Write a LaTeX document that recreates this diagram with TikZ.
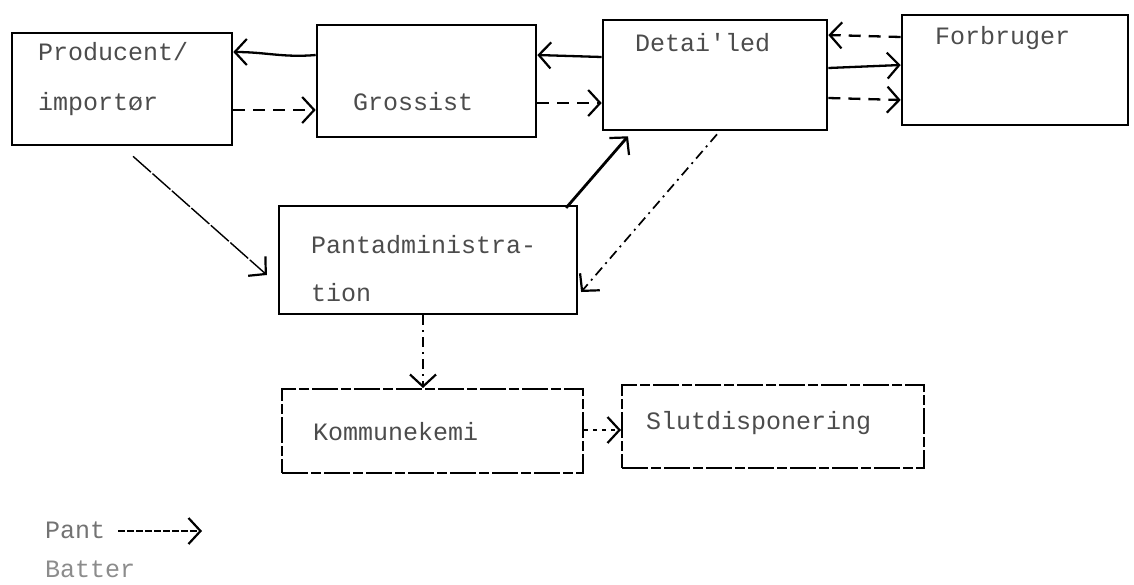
\documentclass[tikz,border=0pt]{standalone}
\usepackage{fontspec}
\setmonofont{Liberation Mono}
\usetikzlibrary{arrows.meta}
\tikzset{
  box/.style={draw=black, line width=2.6pt, rectangle, inner sep=0pt},
  lowbox/.style={draw=black, line width=2pt, rectangle, inner sep=0pt, dash pattern=on 26pt off 3pt on 10pt off 3pt},
  lbl/.style={font=\ttfamily\fontsize{25}{28}\selectfont, text=black!70, anchor=west, inner sep=0pt},
  tip/.style={-{Straight Barb[length=12pt,width=26pt,line width=2.2pt]}},
  solidarr/.style={tip, line width=2.3pt},
  dasharr/.style={tip, line width=2.3pt, dash pattern=on 12pt off 8pt},
  dasharrow/.style={tip, line width=1.7pt, dash pattern=on 10pt off 5pt on 2pt off 5pt},
  dotarr/.style={tip, line width=2.4pt, dash pattern=on 4pt off 5pt},
  thinarr/.style={tip, line width=1.4pt, dash pattern=on 24pt off 2pt},
}
\begin{document}
\begin{tikzpicture}[x=1pt,y=-1pt]
\useasboundingbox (0,0) rectangle (1134,584);
% boxes
\node[box, minimum width=220pt, minimum height=112pt] (prod) at (122,89) {};
\node[box, minimum width=219pt, minimum height=112pt] (gros) at (426.5,81) {};
\node[box, minimum width=224pt, minimum height=110pt] (det) at (715,75) {};
\node[box, minimum width=226pt, minimum height=110pt] (forb) at (1015,70) {};
\node[box, line width=2.2pt, minimum width=298pt, minimum height=108pt] (pant) at (428,260) {};
\node[lowbox, minimum width=301pt, minimum height=84pt] (komm) at (432.5,431) {};
\node[lowbox, minimum width=302pt, minimum height=83pt] (slut) at (773,426.5) {};
% labels
\node[lbl] (tprod1) at (38,52) {Producent/};
\node[lbl] (tprod2) at (38,104) {importør};
\node[lbl] (tgros) at (353,102) {Grossist};
\node[lbl] (tdet) at (635,43) {Detai'led};
\node[lbl] (tforb) at (935,38) {Forbruger};
\node[lbl] (tpant1) at (311,245) {Pantadministra-};
\node[lbl] (tpant2) at (311,293) {tion};
\node[lbl] (tkomm) at (313,432) {Kommunekemi};
\node[lbl] (tslut) at (646,423) {Slutdisponering};
% connectors
\draw[solidarr] ([yshift=26pt]gros.west) to[out=185,in=0] ([yshift=37pt]prod.east);
\draw[dasharr] ([yshift=-21pt]prod.east) -- ([yshift=-29pt]gros.west);
\draw[solidarr] ([yshift=18pt]det.west) -- ([yshift=26pt]gros.east);
\draw[dasharr] ([yshift=-22pt]gros.east) -- ([yshift=-28pt]det.west);
\draw[dasharr] ([yshift=33pt]forb.west) -- ([yshift=40pt]det.east);
\draw[solidarr] ([yshift=7pt]det.east) -- ([yshift=5pt]forb.west);
\draw[dasharr] ([yshift=-23pt]det.east) -- ([yshift=-30pt]forb.west);
\draw[thinarr] ([xshift=11pt,yshift=-10pt]prod.south) -- ([xshift=-11pt,yshift=-15pt]pant.west);
\draw[solidarr, line width=2.8pt] ([xshift=-12pt,yshift=-3pt]pant.north east) -- ([xshift=-87pt,yshift=-5pt]det.south);
\draw[dasharrow] ([xshift=2pt,yshift=-3pt]det.south) -- ([xshift=3pt,yshift=-32pt]pant.east);
\draw[dasharrow] ([xshift=-5pt]pant.south) -- ([xshift=-9.5pt]komm.north);
\draw[dotarr] ([yshift=1pt]komm.east) -- ([yshift=-3.5pt]slut.west);
% legend
\node[lbl, text=black!55] (lpant) at (45,530) {Pant};
\coordinate (la) at (118,531);
\coordinate (lb) at (202,531);
\draw[tip, line width=1.8pt, dash pattern=on 7pt off 2pt] (la) -- (lb);
\node[lbl, text=black!45] (lbatt) at (45,569) {Batter};
\end{tikzpicture}
\end{document}
